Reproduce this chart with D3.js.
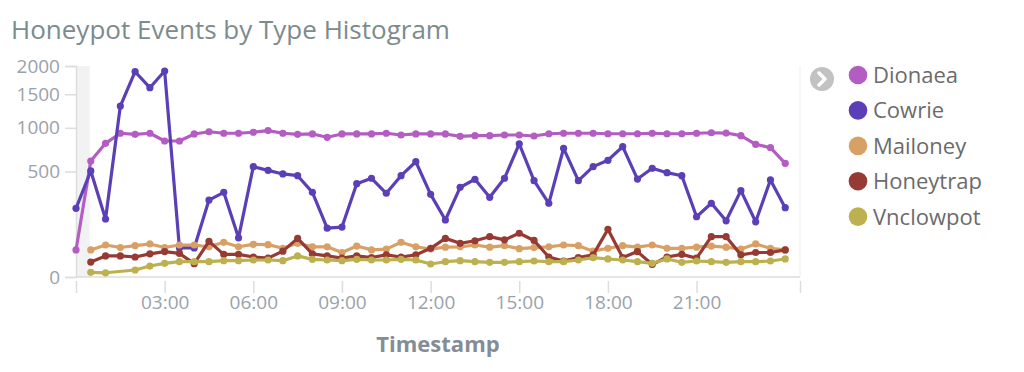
<!DOCTYPE html>
<html>
<head>
<meta charset="utf-8">
<script src="https://cdn.jsdelivr.net/npm/d3@7"></script>
<style>
  html, body { margin: 0; padding: 0; background: #fff; }
  svg { display: block; font-family: "Open Sans", sans-serif; }
</style>
</head>
<body>
<div id="d3-canvas"></div>
<script>
// half-hour buckets, in hours from midnight
var bucketHours = [0, 0.5, 1, 1.5, 2, 2.5, 3, 3.5, 4, 4.5, 5, 5.5, 6, 6.5, 7, 7.5, 8, 8.5, 9, 9.5,
  10, 10.5, 11, 11.5, 12, 12.5, 13, 13.5, 14, 14.5, 15, 15.5, 16, 16.5, 17, 17.5, 18, 18.5, 19, 19.5,
  20, 20.5, 21, 21.5, 22, 22.5, 23, 23.5, 24];

var seriesNames = ["Dionaea", "Cowrie", "Mailoney", "Honeytrap", "Vnclowpot"];
var seriesColors = ["#b35cc2", "#5b3fb6", "#d9a066", "#963a33", "#bdb04f"];

var dionaea = [33, 604, 803, 928, 915, 928, 831, 831, 919, 948,
  928, 928, 941, 963, 928, 915, 919, 877, 919, 919,
  919, 928, 906, 919, 919, 919, 889, 897, 897, 906,
  906, 893, 922, 928, 928, 928, 922, 922, 922, 928,
  922, 922, 928, 935, 931, 897, 791, 751, 581];
var cowrie = [212, 505, 151, 1313, 1893, 1610, 1906, 38, 38, 266,
  322, 69, 547, 511, 477, 461, 322, 107, 112, 391,
  438, 315, 461, 597, 307, 146, 361, 429, 285, 438,
  797, 417, 244, 744, 417, 547, 612, 763, 431, 531,
  489, 461, 163, 244, 142, 335, 137, 423, 216];
var mailoney = [null, 33, 46, 39, 44, 49, 39, 46, 46, 41,
  54, 41, 48, 47, 37, 51, 41, 41, 27, 43,
  33, 35, 54, 41, 35, 40, 41, 46, 40, 44,
  36, 39, 41, 46, 44, 30, 37, 44, 40, 46,
  37, 37, 40, 43, 40, 35, 49, 37, 33];
var honeytrap = [null, 10, 20, 20, 18, 24, 29, 25, 8, 57,
  23, 23, 18, 16, 30, 67, 24, 20, 16, 20,
  17, 22, 18, 22, 37, 67, 51, 59, 73, 62,
  86, 60, 18, 11.5, 17, 22, 102, 17, 29, 7,
  18, 23, 16, 73, 73, 22, 27, 27, 33];
var vnclowpot = [null, 1, 0.8, null, 2.2, 5.4, 8.4, 10.5, 10.5, 10.5,
  12, 12, 13, 13, 12, 20, 14, 13, 12, 14,
  13, 13, 14, 13, 7.6, 10.5, 12, 10.5, 9.7, 9.7,
  10.5, 11.5, 10.5, 10.5, 13, 16.7, 14.6, 13, 10.5, 8.4,
  14.6, 9.7, 11.5, 10.5, 9.7, 10.5, 10.5, 11.5, 14.6];

var seriesValues = [dionaea, cowrie, mailoney, honeytrap, vnclowpot];
var yTicks = [0, 500, 1000, 1500, 2000];
var xTickHours = [0, 3, 6, 9, 12, 15, 18, 21, 24.5];

(function () {
  var width = 1024, height = 372;
  var plot = { left: 76, right: 800, top: 66, bottom: 277 };
  var baseDay = new Date(2019, 0, 1, 0, 0, 0);
  function hourToDate(h) { return new Date(baseDay.getTime() + h * 3600 * 1000); }

  var svg = d3.select('#d3-canvas').append("svg")
    .attr("width", width)
    .attr("height", height);

  var x = d3.scaleTime()
    .domain([hourToDate(0), hourToDate(24.5)])
    .range([plot.left, plot.right]);

  var y = d3.scaleSqrt()
    .domain([0, 2000])
    .range([plot.bottom, plot.top]);

  // title
  svg.append("text")
    .attr("x", 11)
    .attr("y", 39)
    .attr("fill", "#7c8b8c")
    .style("font-size", "26px")
    .text("Honeypot Events by Type Histogram");

  // partial bucket shading
  svg.append("rect")
    .attr("x", x(hourToDate(0)))
    .attr("y", plot.top)
    .attr("width", x(hourToDate(0.5)) - x(hourToDate(0)) - 1)
    .attr("height", plot.bottom - plot.top)
    .attr("fill", "#f2f2f2");

  // right border
  svg.append("line")
    .attr("x1", plot.right).attr("x2", plot.right)
    .attr("y1", plot.top).attr("y2", plot.bottom)
    .attr("stroke", "#eeeeee");

  // y axis
  var yAxis = svg.append("g")
    .attr("transform", "translate(" + plot.left + ",0)")
    .call(d3.axisLeft(y).tickValues(yTicks).tickSize(11).tickPadding(5).tickFormat(d3.format("d")));
  yAxis.select(".domain").attr("stroke", "#dddddd").attr("stroke-width", 1.5);
  yAxis.selectAll(".tick line").attr("stroke", "#dddddd").attr("stroke-width", 1.5);
  yAxis.selectAll(".tick text")
    .attr("fill", "#9aa2a9")
    .style("font-size", "19px")
    .style("font-family", "'Open Sans', sans-serif");

  // baseline
  svg.append("line")
    .attr("x1", plot.left).attr("x2", plot.right)
    .attr("y1", plot.bottom).attr("y2", plot.bottom)
    .attr("stroke", "#dddddd").attr("stroke-width", 1.5);

  // x axis
  var xAxis = svg.append("g")
    .attr("transform", "translate(0," + (plot.bottom + 4) + ")")
    .call(d3.axisBottom(x)
      .tickValues(xTickHours.map(hourToDate))
      .tickSize(12)
      .tickPadding(3)
      .tickFormat(function (d, i) {
        return (i === 0 || i === xTickHours.length - 1) ? "" : d3.timeFormat("%H:%M")(d);
      }));
  xAxis.select(".domain").remove();
  xAxis.selectAll(".tick line").attr("stroke", "#dddddd").attr("stroke-width", 1.5);
  xAxis.selectAll(".tick text")
    .attr("fill", "#9aa2a9")
    .style("font-size", "19px")
    .style("font-family", "'Open Sans', sans-serif");

  // x axis title
  svg.append("text")
    .attr("x", (plot.left + plot.right) / 2)
    .attr("y", 352)
    .attr("text-anchor", "middle")
    .attr("fill", "#848d96")
    .style("font-size", "22px")
    .style("font-weight", "bold")
    .text("Timestamp");

  // series
  var line = d3.line()
    .x(function (d) { return x(hourToDate(d.h)); })
    .y(function (d) { return y(d.v); });

  seriesNames.forEach(function (name, s) {
    var pts = [];
    seriesValues[s].forEach(function (v, i) {
      if (v !== null) pts.push({ h: bucketHours[i], v: v });
    });
    var g = svg.append("g").attr("class", "series");
    g.append("path")
      .datum(pts)
      .attr("d", line)
      .attr("fill", "none")
      .attr("stroke", seriesColors[s])
      .attr("stroke-width", 3.2)
      .attr("stroke-linejoin", "round");
    g.selectAll("circle")
      .data(pts)
      .enter().append("circle")
      .attr("cx", function (d) { return x(hourToDate(d.h)); })
      .attr("cy", function (d) { return y(d.v); })
      .attr("r", 3.6)
      .attr("fill", seriesColors[s]);
  });

  // legend toggle
  svg.append("circle")
    .attr("cx", 822).attr("cy", 79).attr("r", 12)
    .attr("fill", "#c2c2c2");
  svg.append("path")
    .attr("d", "M819,73 L825,79 L819,85")
    .attr("fill", "none")
    .attr("stroke", "#ffffff")
    .attr("stroke-width", 3.5)
    .attr("stroke-linecap", "round")
    .attr("stroke-linejoin", "round");

  // legend
  var legend = svg.selectAll(".legend-item")
    .data(seriesNames)
    .enter().append("g")
    .attr("class", "legend-item")
    .attr("transform", function (d, i) { return "translate(858," + (75 + i * 35.4) + ")"; });
  legend.append("circle")
    .attr("r", 9.3)
    .attr("fill", function (d, i) { return seriesColors[i]; });
  legend.append("text")
    .attr("x", 15)
    .attr("dy", "0.36em")
    .attr("fill", "#6b6b6b")
    .style("font-size", "22px")
    .text(function (d) { return d; });
})();
</script>
</body>
</html>
